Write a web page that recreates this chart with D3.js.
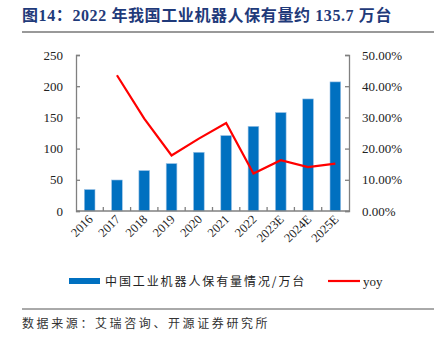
<!DOCTYPE html>
<html><head><meta charset="utf-8">
<script src="https://cdn.jsdelivr.net/npm/d3@7"></script>
<style>body{margin:0;background:#fff}svg{display:block}</style>
</head><body>
<script>
const categories = ["2016","2017","2018","2019","2020","2021","2022","2023E","2024E","2025E"];
const stock = [34.4, 49.7, 64.8, 76.0, 94.1, 120.9, 135.7, 157.8, 179.6, 206.9];
const yoy = [null, 0.435, 0.296, 0.178, 0.232, 0.282, 0.120, 0.163, 0.141, 0.152];
const leftTicks = [0, 50, 100, 150, 200, 250];
const rightTicks = [0, 0.1, 0.2, 0.3, 0.4, 0.5];
const title = "图14：2022 年我国工业机器人保有量约 135.7 万台";
const seriesNames = ["中国工业机器人保有量情况/万台", "yoy"];
const source = "数据来源：艾瑞咨询、开源证券研究所";

const W = 441, H = 338;
const svg = d3.select("body").append("svg").attr("width", W).attr("height", H);
const m = {l: 76, r: 349, t: 55, b: 211};
const serif = "'Liberation Serif','Times New Roman',serif";
const cjk = "'Noto Sans CJK SC','Noto Sans',sans-serif";
const axisColor = "#808080";

svg.append("text").attr("x", 22).attr("y", 21).attr("font-family", "'Liberation Serif','Noto Sans CJK SC',serif")
  .attr("font-weight", "bold").attr("font-size", 16).attr("letter-spacing", 0.6)
  .attr("fill", "#1f3a7a").text(title);
svg.append("line").attr("x1", 22).attr("x2", 434).attr("y1", 32).attr("y2", 32)
  .attr("stroke", "#999").attr("stroke-width", 2);

const x = d3.scaleBand().domain(categories).range([m.l, m.r]).padding(0);
const y = d3.scaleLinear().domain([0, 250]).range([m.b, m.t]);
const y2 = d3.scaleLinear().domain([0, 0.5]).range([m.b, m.t]);
const bw = 10.7;

svg.append("g").selectAll("rect").data(categories).join("rect")
  .attr("x", d => x(d) + x.bandwidth()/2 - bw/2)
  .attr("y", (d,i) => y(stock[i]))
  .attr("width", bw).attr("height", (d,i) => m.b - y(stock[i]))
  .attr("fill", "#0070c0").attr("stroke", "#9dc3e6").attr("stroke-width", 0.6);

// left axis
const gl = svg.append("g").attr("transform", `translate(${m.l},0)`)
  .call(d3.axisRight(y).tickValues(leftTicks).tickSize(4).tickFormat(""));
gl.selectAll("line,path").attr("stroke", axisColor).attr("stroke-width", 1.3);
svg.append("g").selectAll("text").data(leftTicks).join("text")
  .attr("x", 63).attr("y", d => y(d)).attr("dy", "0.35em").attr("text-anchor", "end")
  .attr("font-family", serif).attr("font-size", 13).attr("fill", "#222").text(d => d);

// right axis
const gr = svg.append("g").attr("transform", `translate(${m.r},0)`)
  .call(d3.axisLeft(y2).tickValues(rightTicks).tickSize(4).tickFormat(""));
gr.selectAll("line,path").attr("stroke", axisColor).attr("stroke-width", 1.3);
svg.append("g").selectAll("text").data(rightTicks).join("text")
  .attr("x", 362).attr("y", d => y2(d)).attr("dy", "0.35em").attr("text-anchor", "start")
  .attr("font-family", serif).attr("font-size", 13).attr("fill", "#222").text(d => d3.format(".2%")(d));

// bottom axis
const boundaries = categories.map(c => x(c)).concat([m.r]);
svg.append("line").attr("x1", m.l).attr("x2", m.r).attr("y1", m.b).attr("y2", m.b)
  .attr("stroke", axisColor).attr("stroke-width", 1.3);
svg.append("g").selectAll("line").data(boundaries.slice(1, -1)).join("line")
  .attr("x1", d => d).attr("x2", d => d).attr("y1", m.b).attr("y2", m.b - 4)
  .attr("stroke", axisColor).attr("stroke-width", 1.3);
svg.append("g").selectAll("text").data(categories).join("text")
  .attr("transform", d => `translate(${x(d) + x.bandwidth()/2 + 4},${m.b + 9}) rotate(-45)`)
  .attr("text-anchor", "end").attr("font-family", serif).attr("font-size", 12.5).attr("fill", "#222")
  .text(d => d);

// line
const lineData = categories.map((c,i) => ({c, v: yoy[i]})).filter(d => d.v != null);
svg.append("path").datum(lineData)
  .attr("d", d3.line().x(d => x(d.c) + x.bandwidth()/2).y(d => y2(d.v)))
  .attr("fill", "none").attr("stroke", "#ff0000").attr("stroke-width", 2.2);

// legend
svg.append("rect").attr("x", 69).attr("y", 278).attr("width", 31).attr("height", 6).attr("fill", "#0070c0");
svg.append("text").attr("x", 105).attr("y", 285.5).attr("font-family", cjk).attr("font-size", 12)
  .attr("fill", "#222").attr("letter-spacing", 1.9).text(seriesNames[0]);
svg.append("line").attr("x1", 328).attr("x2", 360).attr("y1", 281).attr("y2", 281)
  .attr("stroke", "#ff0000").attr("stroke-width", 2.2);
svg.append("text").attr("x", 363).attr("y", 285.5).attr("font-family", serif).attr("font-size", 13)
  .attr("fill", "#222").text(seriesNames[1]);

svg.append("line").attr("x1", 22).attr("x2", 434).attr("y1", 309).attr("y2", 309)
  .attr("stroke", "#555").attr("stroke-width", 1);
svg.append("text").attr("x", 22).attr("y", 328).attr("font-family", cjk).attr("font-size", 12)
  .attr("fill", "#333").attr("letter-spacing", 2.6).text(source);
</script>
</body></html>
